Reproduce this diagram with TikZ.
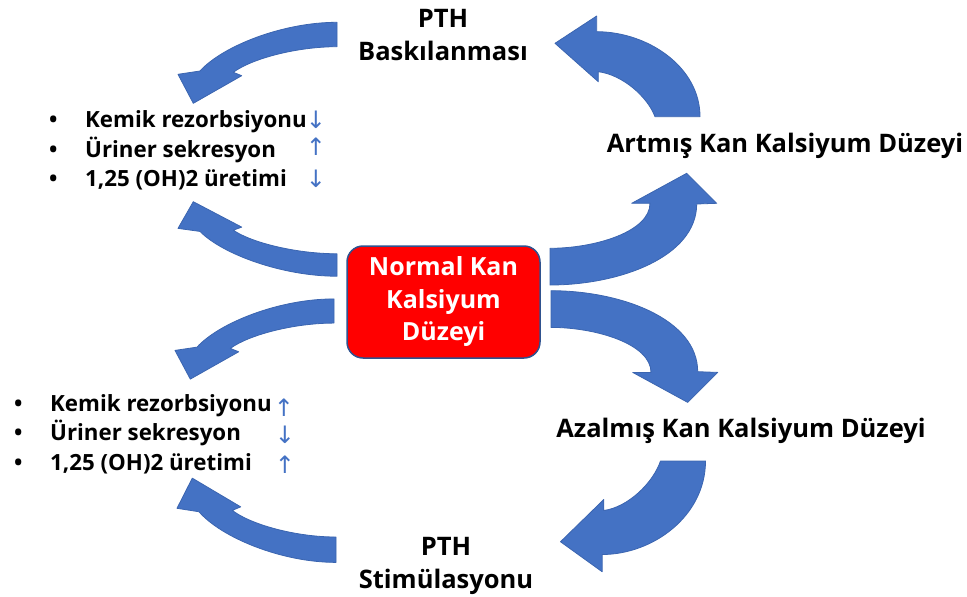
\documentclass[tikz,border=0pt]{standalone}
\usepackage{fontspec}
\setmainfont{Open Sans}
\newfontfamily\arrowfont{DejaVu Sans}
\usepackage{tikz}
\usepackage{xcolor}
\definecolor{arrowblue}{HTML}{4472C4}
\definecolor{edgeblue}{HTML}{3B65B0}
\definecolor{alarmred}{HTML}{FF0000}
\definecolor{navy}{HTML}{2F528F}
\newcommand{\bul}{\makebox[36pt][l]{•}}

\begin{document}
\begin{tikzpicture}[x=1pt, y=-1pt, title/.style={font=\fontsize{25.5}{33}\selectfont\bfseries,align=center,inner sep=0pt,anchor=base}, normalbox/.style={draw=navy,line width=1.5pt,fill=alarmred,rounded corners=16pt,minimum width=193pt,minimum height=112pt,text=white,align=center,inner sep=0pt,font=\fontsize{25}{32.5}\selectfont\bfseries}, effects/.style={font=\fontsize{22.3}{29.5}\selectfont\bfseries,align=left,inner sep=0pt,anchor=base west}, updown/.style={text=arrowblue,inner sep=0pt,font=\arrowfont\fontsize{24}{24}\selectfont}, blockarrow/.style={fill=arrowblue,draw=edgeblue,line width=0.8pt,line join=round},
pics/leftarc/.style={code={\path[blockarrow] (0,-12.2) .. controls (-55,-12.2) and (-115,12) .. (-137,36.5) -- (-159,39.8) -- (-143.7,68.8) -- (-95.3,41.2) -- (-103.7,37.8) .. controls (-85,24) and (-40,12.2) .. (0,12.2) -- cycle;}},
pics/toparc/.style={code={\path[blockarrow] (22.5,0) .. controls (22.5,-50) and (-30,-85) .. (-80.8,-85) -- (-80.8,-100.7) -- (-122.5,-73.4) -- (-79.2,-35) -- (-79.2,-45) .. controls (-55,-42) and (-30,-20) .. (-22.5,0) -- cycle;}},
pics/sidearc/.style={code={\path[blockarrow] (0,-18.4) .. controls (45,-18.4) and (100,-35) .. (100,-63.4) -- (81.7,-63.4) -- (136.7,-93.4) -- (166.7,-63.4) -- (146.7,-62.7) .. controls (146.7,-10) and (70,18.3) .. (0,18.3) -- cycle;}}]
\useasboundingbox (0,0) rectangle (967,597);
\node[normalbox] (normal) at (443.5,302) {Normal Kan\\Kalsiyum\\Düzeyi};
\node[title] (suppress) at (443,60) {PTH\\Baskılanması};
\node[title] (stimulate) at (446,588) {PTH\\Stimülasyonu};
\node[title] (high) at (785,152) {Artmış Kan Kalsiyum Düzeyi};
\node[title] (low) at (741,437) {Azalmış Kan Kalsiyum Düzeyi};
\node[effects] (listhigh) at (49,186.5) {\bul Kemik rezorbsiyonu\\\bul Üriner sekresyon\\\bul 1,25 (OH)2 üretimi};
\node[effects] (listlow) at (14,470) {\bul Kemik rezorbsiyonu\\\bul Üriner sekresyon\\\bul 1,25 (OH)2 üretimi};
\node[updown] (high1) at (316,120) {↓};
\node[updown] (high2) at (316,146.5) {↑};
\node[updown] (high3) at (316,178.5) {↓};
\node[updown] (low1) at (284,407.5) {↑};
\node[updown] (low2) at (285,434.5) {↓};
\node[updown] (low3) at (285,464.5) {↑};
\pic at (337,34.5) {leftarc};
\pic[yscale=-0.92] at (337,265) {leftarc};
\pic[yscale=0.99] at (334,311) {leftarc};
\pic[yscale=-1.04] at (336,549.7) {leftarc};
\pic at (677.5,116.7) {toparc};
\pic[yscale=-1.1] at (683,461) {toparc};
\pic at (550,266.7) {sidearc};
\pic[yscale=-1] at (551,309) {sidearc};
\end{tikzpicture}
\end{document}
